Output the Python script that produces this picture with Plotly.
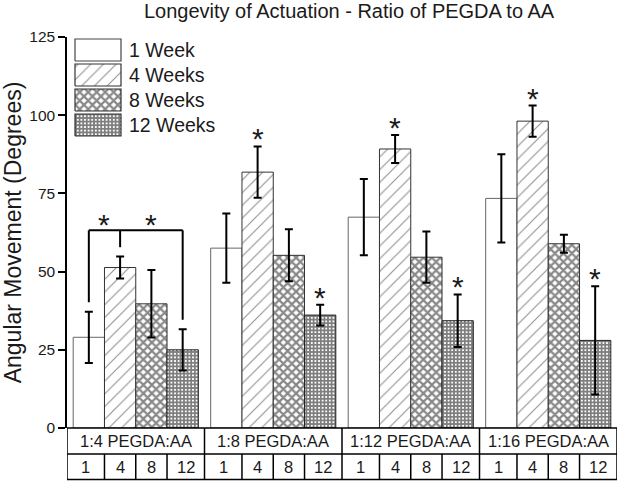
import plotly.graph_objects as go

# ---------------- data ----------------
groups = ["1:4 PEGDA:AA", "1:8 PEGDA:AA", "1:12 PEGDA:AA", "1:16 PEGDA:AA"]
week_labels = ["1", "4", "8", "12"]
series_names = ["1 Week", "4 Weeks", "8 Weeks", "12 Weeks"]

week1 = [29.0, 57.5, 67.4, 73.4]
week4 = [51.3, 81.8, 89.2, 98.1]
week8 = [39.7, 55.2, 54.6, 58.9]
week12 = [25.0, 36.1, 34.3, 28.0]

err1 = [8.2, 11.1, 12.2, 14.1]
err4 = [3.5, 8.2, 4.5, 5.0]
err8 = [10.8, 8.3, 8.2, 2.9]
err12 = [6.6, 3.3, 8.4, 17.3]

# significance markers: (group index, series index)
star_marks = [(1, 1), (1, 3), (2, 1), (2, 3), (3, 1), (3, 3)]
# bracket in first group: legs at series 0, 1 (middle), 3
bracket_group = 0
bracket_series = [0, 1, 3]

values = [week1, week4, week8, week12]
errors = [err1, err4, err8, err12]

# ---------------- style ----------------
FONT = "Liberation Sans, Arial, sans-serif"
TXT = "#1a1a1a"
BARGAP = 0.09
BW = (1 - BARGAP) / 4
PLOT_W, PLOT_H = 550, 391
patterns = [
    dict(shape=""),
    dict(shape="/", size=9, solidity=0.13, fgcolor="#2a2a2a", bgcolor="white"),
    dict(shape="x", size=6, solidity=0.6, fgcolor="#111111", bgcolor="white"),
    dict(shape="+", size=3.6, solidity=0.75, fgcolor="#000000", bgcolor="white"),
]
outline = ["#666666", "#333333", "#333333", "#222222"]

xpos = list(range(len(groups)))


def offset(i):
    return -0.5 + BARGAP / 2 + (i + 0.5) * BW


fig = go.Figure()
for i, name in enumerate(series_names):
    fig.add_trace(go.Bar(
        x=xpos, y=values[i], name=name, showlegend=False,
        marker=dict(color="white", pattern=patterns[i],
                    line=dict(color=outline[i], width=1)),
        error_y=dict(type="data", array=errors[i], visible=True,
                     color="black", thickness=2, width=4),
    ))

annotations = []
shapes = []

# legend drawn as large patterned boxes (pixel coords on overlay axes)
LEG_X, LEG_TOP, BOX_W, BOX_H, ROW_H, TEXT_GAP = 8, 389, 46, 22, 25, 6
for i, name in enumerate(series_names):
    top = LEG_TOP - i * ROW_H
    bot = top - BOX_H
    fig.add_trace(go.Scatter(
        x=[LEG_X, LEG_X + BOX_W, LEG_X + BOX_W, LEG_X, LEG_X],
        y=[bot, bot, top, top, bot],
        xaxis="x2", yaxis="y2", mode="lines", fill="toself",
        fillcolor="white", fillpattern=patterns[i] if i else None,
        line=dict(color="#444444" if i == 0 else "#333333", width=1.2),
        showlegend=False, hoverinfo="skip", name=name))
    annotations.append(dict(x=LEG_X + BOX_W + TEXT_GAP, y=(top + bot) / 2,
                            xref="x2", yref="y2", text=name, showarrow=False,
                            xanchor="left", yanchor="middle",
                            font=dict(family=FONT, size=19.5, color=TXT)))

# stars
for g, s in star_marks:
    annotations.append(dict(
        x=g + offset(s), y=values[s][g] + errors[s][g], xref="x", yref="y",
        text="*", showarrow=False, yanchor="bottom", yshift=-11,
        font=dict(family=FONT, size=30, color=TXT)))

# bracket
g = bracket_group
tops = [values[s][g] + errors[s][g] for s in bracket_series]
by = max(tops) + 8.4
xs = [g + offset(s) for s in bracket_series]
shapes.append(dict(type="line", xref="x", yref="y", x0=xs[0], x1=xs[-1], y0=by, y1=by,
                   line=dict(color="black", width=2)))
for xv, tv in zip(xs, tops):
    shapes.append(dict(type="line", xref="x", yref="y", x0=xv, x1=xv, y0=by, y1=tv + 3,
                       line=dict(color="black", width=2)))
for a, b in [(xs[0], xs[1]), (xs[1], xs[2])]:
    annotations.append(dict(
        x=(a + b) / 2, y=by, xref="x", yref="y", text="*", showarrow=False,
        yanchor="bottom", yshift=-13, font=dict(family=FONT, size=30, color=TXT)))

# table below axis
T_MID = -0.0665
T_BOT = -0.1317
LW = 1.5
shapes.append(dict(type="rect", xref="x", yref="paper", x0=-0.5, x1=len(groups) - 0.5,
                   y0=T_BOT, y1=0, line=dict(color="black", width=LW)))
shapes.append(dict(type="line", xref="x", yref="paper", x0=-0.5, x1=len(groups) - 0.5,
                   y0=T_MID, y1=T_MID, line=dict(color="black", width=LW)))
for gi in range(1, len(groups)):
    shapes.append(dict(type="line", xref="x", yref="paper", x0=gi - 0.5, x1=gi - 0.5,
                       y0=T_BOT, y1=0, line=dict(color="black", width=LW)))
for gi, gname in enumerate(groups):
    annotations.append(dict(x=gi, y=T_MID / 2, xref="x", yref="paper", text=gname,
                            showarrow=False, yanchor="middle",
                            font=dict(family=FONT, size=16.5, color=TXT)))
    bounds = [gi - 0.5] + [gi - 0.5 + BARGAP / 2 + k * BW for k in (1, 2, 3)] + [gi + 0.5]
    for k in (1, 2, 3):
        shapes.append(dict(type="line", xref="x", yref="paper", x0=bounds[k], x1=bounds[k],
                           y0=T_BOT, y1=T_MID, line=dict(color="black", width=LW)))
    for k, wl in enumerate(week_labels):
        annotations.append(dict(x=(bounds[k] + bounds[k + 1]) / 2, y=(T_MID + T_BOT) / 2,
                                xref="x", yref="paper", text=wl, showarrow=False,
                                yanchor="middle",
                                font=dict(family=FONT, size=16.5, color=TXT)))

fig.update_layout(
    width=620, height=485,
    margin=dict(l=67, r=3, t=37, b=57),
    paper_bgcolor="white", plot_bgcolor="white",
    barmode="group", bargap=BARGAP, bargroupgap=0,
    showlegend=False,
    font=dict(family=FONT, color=TXT),
    title=dict(text="Longevity of Actuation - Ratio of PEGDA to AA",
               x=0.563, xref="container", xanchor="center",
               y=0.978, yref="container", yanchor="middle",
               font=dict(family=FONT, size=20, color=TXT)),
    xaxis=dict(range=[-0.5, len(groups) - 0.5], showticklabels=False, ticks="",
               showgrid=False, zeroline=False, showline=False, fixedrange=True),
    yaxis=dict(range=[0, 125], tick0=0, dtick=25, ticks="outside", ticklen=7,
               tickwidth=1.5, tickcolor="black", showline=True, linecolor="black",
               linewidth=1.5, showgrid=False, zeroline=False,
               tickfont=dict(family=FONT, size=15.5, color=TXT),
               title=dict(text="Angular Movement (Degrees)", standoff=6,
                          font=dict(family=FONT, size=23, color=TXT))),
    xaxis2=dict(overlaying="x", range=[0, PLOT_W], visible=False, fixedrange=True),
    yaxis2=dict(overlaying="y", range=[0, PLOT_H], visible=False, fixedrange=True),
    annotations=annotations,
    shapes=shapes,
)

fig.write_html("out.html", config={"displayModeBar": False},
               post_script="document.body.style.margin='0';")
